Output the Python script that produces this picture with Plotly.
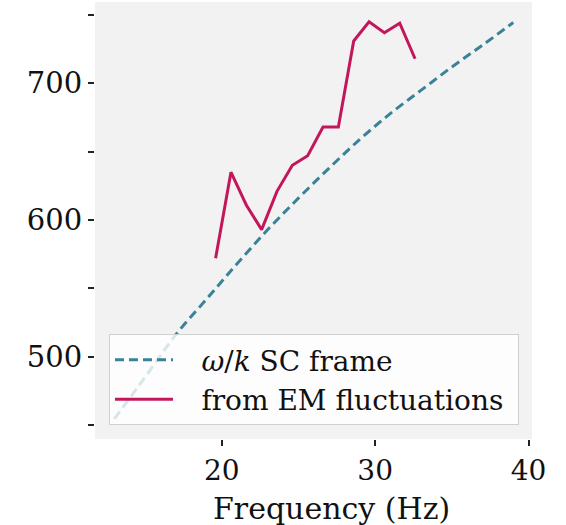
import plotly.graph_objects as go

# Phase speed in the spacecraft frame (omega/k) versus frequency
freq_sc = [13, 15, 17, 19, 21, 23, 25, 27, 29, 31, 33, 35, 37, 39]
speed_sc = [454.5, 485, 516, 542, 568, 593, 616, 638, 659, 678, 695, 712, 728, 744.5]

# Speed estimated from electromagnetic fluctuations
freq_em = [19.6, 20.6, 21.6, 22.6, 23.6, 24.6, 25.6, 26.6, 27.6, 28.6, 29.6, 30.6, 31.6, 32.6]
speed_em = [572, 635, 611, 593, 621, 640, 647, 668, 668, 731, 745, 737, 744, 718]

# Axis ticks
x_ticks = [20, 30, 40]
y_ticks = [450, 500, 550, 600, 650, 700, 750]
y_ticklabels = ["", "500", "", "600", "", "700", ""]

FONT = "DejaVu Serif"
TEAL = "#3a8299"
PINK = "#c2185b"
PAD = "\u00a0\u00a0\u2009"  # gap between legend sample and label

fig = go.Figure()
fig.add_trace(go.Scatter(
    x=freq_sc, y=speed_sc, mode="lines",
    line=dict(color=TEAL, width=3, dash="9px,5px", shape="spline"),
    name=PAD + "<i>ω</i>/<i>k</i> SC frame",
))
fig.add_trace(go.Scatter(
    x=freq_em, y=speed_em, mode="lines",
    line=dict(color=PINK, width=3),
    name=PAD + "from EM fluctuations\u00a0",
))

# x-axis label
fig.add_annotation(
    text="Frequency (Hz)", xref="paper", yref="paper",
    x=0.541, y=-0.16, xanchor="center", yanchor="middle",
    showarrow=False, font=dict(family=FONT, size=30, color="#111111"),
)

fig.update_layout(
    width=566, height=525,
    margin=dict(l=95, r=34, t=2, b=86),
    paper_bgcolor="white",
    plot_bgcolor="#f2f2f2",
    font=dict(family=FONT, size=28, color="#111111"),
    showlegend=True,
    legend=dict(
        x=0.032, y=0.24, xanchor="left", yanchor="top",
        bgcolor="rgba(255,255,255,0.8)",
        bordercolor="#d0d0d0", borderwidth=1,
        font=dict(family=FONT, size=28, color="#111111"),
        itemwidth=58,
    ),
    xaxis=dict(
        range=[11.74, 40.22],
        tickvals=x_ticks,
        ticks="outside", ticklen=6, tickwidth=2, tickcolor="#222222",
        showgrid=False, zeroline=False, showline=False,
    ),
    yaxis=dict(
        range=[439.8, 759.5],
        tickvals=y_ticks, ticktext=y_ticklabels,
        tickfont=dict(size=29),
        ticks="outside", ticklen=6, tickwidth=2, tickcolor="#222222",
        showgrid=False, zeroline=False, showline=False,
    ),
)

fig.write_html("out.html")
